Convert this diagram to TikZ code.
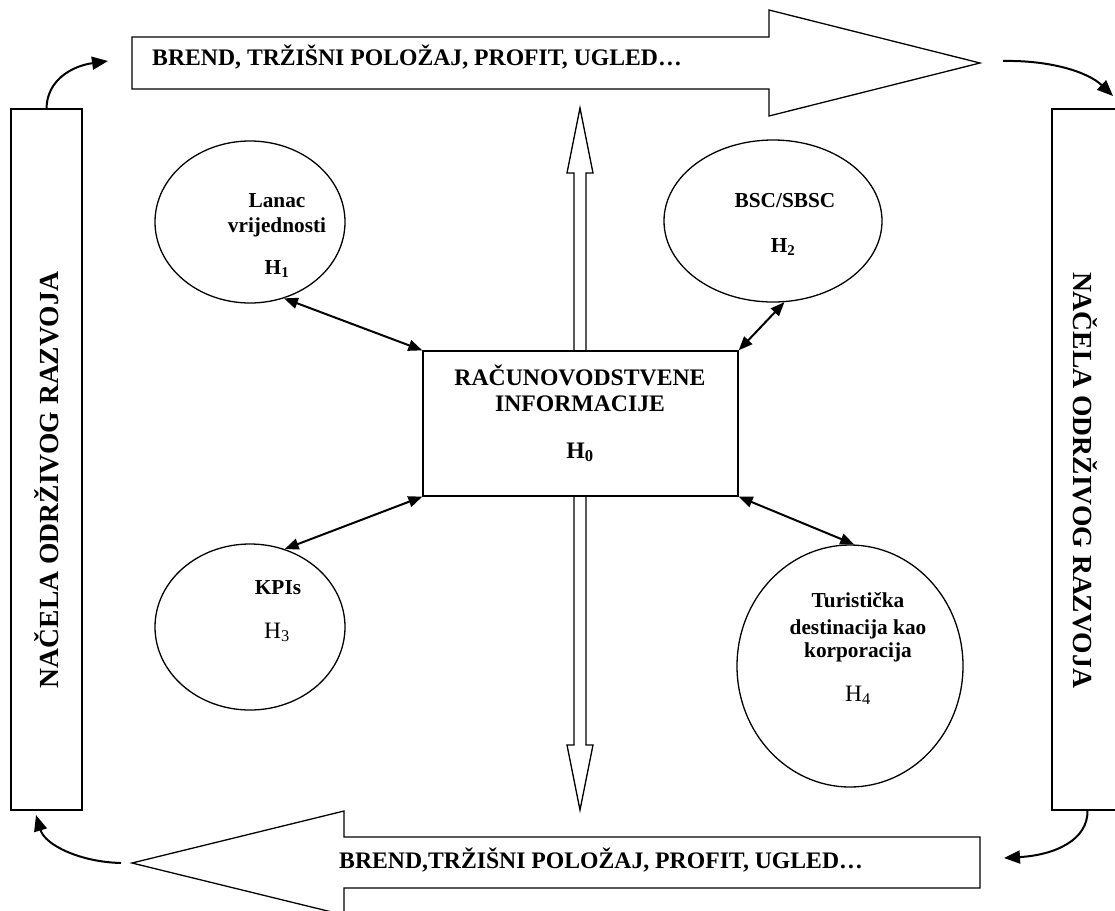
\documentclass[tikz,border=0pt]{standalone}
\usepackage{fontspec}
\setmainfont{Liberation Serif}
\usetikzlibrary{arrows.meta,shapes.geometric}
\begin{document}
\begin{tikzpicture}[x=1pt,y=-1pt,
  shapeline/.style={draw,line width=1.3pt},
  conn/.style={line width=2pt,{Triangle[length=14pt,width=11pt]}-{Triangle[length=14pt,width=11pt]}},
  curv/.style={line width=2pt,-{Triangle[length=16pt,width=13pt]}},
  big/.style={font=\fontsize{23.7}{27}\selectfont\bfseries,inner sep=0},
  side/.style={font=\fontsize{27.6}{32}\selectfont\bfseries,inner sep=0},
  mid/.style={font=\fontsize{21.3}{25}\selectfont\bfseries,inner sep=0},
  reg/.style={font=\fontsize{23.5}{27}\selectfont,inner sep=0},
  ell/.style={shapeline,ellipse,inner sep=0}
]
\useasboundingbox[fill=white] (0,0) rectangle (1115,910);

% central vertical double arrow
\draw[shapeline,fill=white] (580,108) -- (593,173) -- (586,173) -- (586,745) -- (593,745)
  -- (580,810) -- (567,745) -- (574,745) -- (574,173) -- (567,173) -- cycle;

% centre box
\node[shapeline,fill=white,minimum width=315pt,minimum height=145pt,inner sep=0] (c) at (580.5,423.5) {};
\node[big,anchor=base] (c1) at (580,385) {RAČUNOVODSTVENE};
\node[big,anchor=base] (c2) at (580,411) {INFORMACIJE};
\node[big,anchor=base] (c3) at (580,458) {H\textsubscript{0}};

% top arrow
\draw[shapeline] (132,37) -- (769,37) -- (769,10) -- (980,63) -- (769,116) -- (769,89) -- (132,89) -- cycle;
\node[big,anchor=base west] (t1) at (152,65) {BREND, TRŽIŠNI POLOŽAJ, PROFIT, UGLED…};

% bottom arrow
\draw[shapeline] (980,837) -- (344,837) -- (344,811) -- (132,863) -- (344,915) -- (344,888) -- (980,888) -- cycle;
\node[big,anchor=base west] (b1) at (339,868) {BREND,TRŽIŠNI POLOŽAJ, PROFIT, UGLED…};

% side boxes
\node[shapeline,minimum width=71pt,minimum height=701pt,inner sep=0] (L) at (46.5,459.5) {};
\node[side,rotate=90] (Lt) at (47,480) {NAČELA ODRŽIVOG RAZVOJA};
\node[shapeline,minimum width=71pt,minimum height=701pt,inner sep=0] (R) at (1087.5,459.5) {};
\node[side,rotate=-90] (Rt) at (1085,480) {NAČELA ODRŽIVOG RAZVOJA};

% curved arrows
\coordinate (tla) at (108,61);
\draw[curv] (L.north) .. controls (47,80) and (72,66) .. (tla);
\coordinate (tra) at (1003,61);
\coordinate (trb) at (1113,96);
\draw[curv] (tra) .. controls (1050,60) and (1088,72) .. (trb);
\coordinate (bra) at (1004,858);
\draw[curv] (R.south) .. controls (1088,840) and (1055,855) .. (bra);
\coordinate (bla) at (121,863);
\coordinate (blb) at (36,815);
\draw[curv] (bla) .. controls (80,862) and (45,845) .. (blb);

% ellipses
\node[ell,minimum width=190pt,minimum height=162pt] (e1) at (250,222) {};
\node[mid,anchor=base] (e1a) at (277,207) {Lanac};
\node[mid,anchor=base] (e1b) at (277,232) {vrijednosti};
\node[mid,anchor=base] (e1c) at (277,274) {H\textsubscript{1}};

\node[ell,minimum width=218pt,minimum height=162pt] (e2) at (773,221) {};
\node[mid,anchor=base] (e2a) at (785,207) {BSC/SBSC};
\node[mid,anchor=base] (e2b) at (783,252) {H\textsubscript{2}};

\node[ell,minimum width=190pt,minimum height=166pt] (e3) at (250,627) {};
\node[mid,anchor=base] (e3a) at (278,594) {KPIs};
\node[reg,anchor=base] (e3b) at (277,638) {H\textsubscript{3}};

\node[ell,minimum width=226pt,minimum height=242pt] (e4) at (850,666) {};
\node[mid,anchor=base] (e4a) at (858,607) {Turistička};
\node[mid,anchor=base] (e4b) at (858,634) {destinacija kao};
\node[mid,anchor=base] (e4c) at (858,657) {korporacija};
\node[reg,anchor=base] (e4d) at (858,701) {H\textsubscript{4}};

% connectors
\draw[conn] (e1.-66) -- (c.north west);
\draw[conn] (e2.-82) -- (c.north east);
\draw[conn] (c.south west) -- (e3.66);
\draw[conn] (c.south east) -- (e4.88);
\end{tikzpicture}
\end{document}
